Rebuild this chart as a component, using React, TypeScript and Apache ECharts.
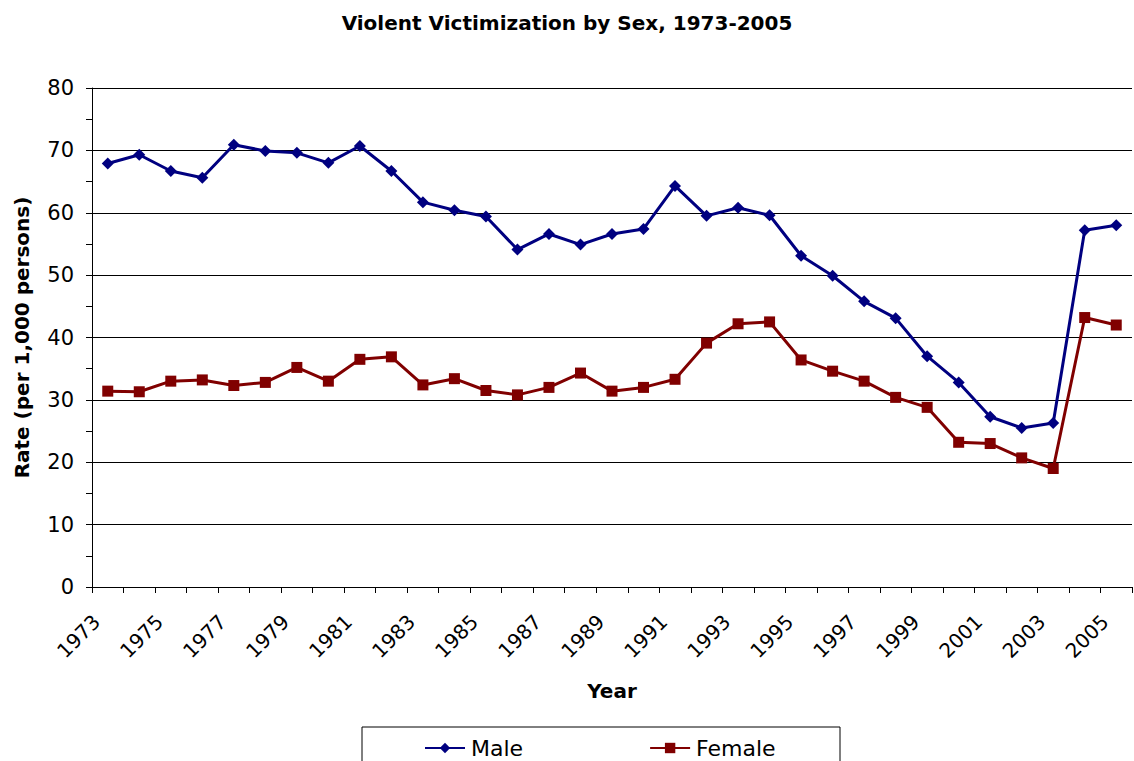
import React, { useEffect, useRef } from "react";
import * as echarts from "echarts";

const years = [
  "1973", "1974", "1975", "1976", "1977", "1978", "1979", "1980", "1981", "1982",
  "1983", "1984", "1985", "1986", "1987", "1988", "1989", "1990", "1991", "1992",
  "1993", "1994", "1995", "1996", "1997", "1998", "1999", "2000", "2001", "2002",
  "2003", "2004", "2005",
];

const male = [
  67.9, 69.3, 66.7, 65.6, 70.9, 69.9, 69.6, 68.0, 70.7, 66.7,
  61.7, 60.4, 59.4, 54.1, 56.6, 54.9, 56.6, 57.4, 64.3, 59.5,
  60.8, 59.6, 53.1, 49.9, 45.8, 43.1, 37.0, 32.8, 27.3, 25.5,
  26.3, 57.2, 58.0,
];

const female = [
  31.4, 31.3, 33.0, 33.2, 32.3, 32.8, 35.2, 33.0, 36.5, 36.9,
  32.4, 33.4, 31.5, 30.8, 32.0, 34.3, 31.4, 32.0, 33.3, 39.1,
  42.2, 42.5, 36.4, 34.6, 33.0, 30.4, 28.8, 23.2, 23.0, 20.7,
  19.0, 43.2, 42.0,
];

export default function App() {
  const ref = useRef<HTMLDivElement>(null);
  useEffect(() => {
    if (!ref.current) return;
    const chart = echarts.init(ref.current, undefined, { renderer: "svg" });
    const font = "DejaVu Sans, Verdana, sans-serif";
    chart.setOption({
      animation: false,
      backgroundColor: "#ffffff",
      textStyle: { fontFamily: font },
      title: {
        text: "Violent Victimization by Sex, 1973-2005",
        left: "center",
        top: 8,
        textStyle: { fontFamily: font, fontSize: 20, fontWeight: "bold", color: "#000" },
      },
      grid: { left: 92, right: 2, top: 88, bottom: 174, containLabel: false },
      legend: {
        data: ["Male", "Female"],
        left: 424,
        top: 737,
        padding: 0,
        itemWidth: 40,
        itemHeight: 13,
        itemGap: 126,
        textStyle: {
          fontFamily: font,
          fontSize: 22,
          lineHeight: 20,
          color: "#000",
          padding: [0, 0, 0, 1],
        },
      },
      graphic: [
        {
          type: "rect",
          shape: { x: 362, y: 727, width: 478, height: 60 },
          style: { fill: "none", stroke: "#000", lineWidth: 1 },
          silent: true,
          z: 10,
        },
      ],
      xAxis: {
        type: "category",
        data: years,
        boundaryGap: true,
        name: "Year",
        nameLocation: "middle",
        nameGap: 94,
        nameTextStyle: { fontFamily: font, fontSize: 20, fontWeight: "bold", color: "#000" },
        axisLine: { lineStyle: { color: "#000", width: 1 } },
        axisTick: { show: true, interval: 0, length: 6, lineStyle: { color: "#000" } },
        axisLabel: {
          interval: 1,
          rotate: 45,
          margin: 20,
          padding: [0, 16, 0, 0],
          fontFamily: font,
          fontSize: 20,
          color: "#000",
        },
        splitLine: { show: false },
      },
      yAxis: {
        type: "value",
        min: 0,
        max: 80,
        interval: 10,
        name: "Rate (per 1,000 persons)",
        nameLocation: "middle",
        nameGap: 60,
        nameTextStyle: { fontFamily: font, fontSize: 20, fontWeight: "bold", color: "#000" },
        axisLine: { show: true, lineStyle: { color: "#000", width: 1 } },
        axisTick: { show: true, length: 6, lineStyle: { color: "#000" } },
        minorTick: { show: true, splitNumber: 2, length: 6, lineStyle: { color: "#000" } },
        axisLabel: { margin: 18, fontFamily: font, fontSize: 21, color: "#000" },
        splitLine: { show: true, lineStyle: { color: "#000", width: 1 } },
      },
      series: [
        {
          name: "Male",
          type: "line",
          data: male,
          symbol: "diamond",
          symbolSize: 12,
          color: "#000080",
          lineStyle: { color: "#000080", width: 3 },
          itemStyle: { color: "#000080" },
        },
        {
          name: "Female",
          type: "line",
          data: female,
          symbol: "rect",
          symbolSize: 11,
          color: "#800000",
          lineStyle: { color: "#800000", width: 3 },
          itemStyle: { color: "#800000" },
        },
      ],
    });
    return () => chart.dispose();
  }, []);
  return (
    <div
      ref={ref}
      style={{ position: "fixed", left: 0, top: 0, width: 1134, height: 761 }}
    />
  );
}
